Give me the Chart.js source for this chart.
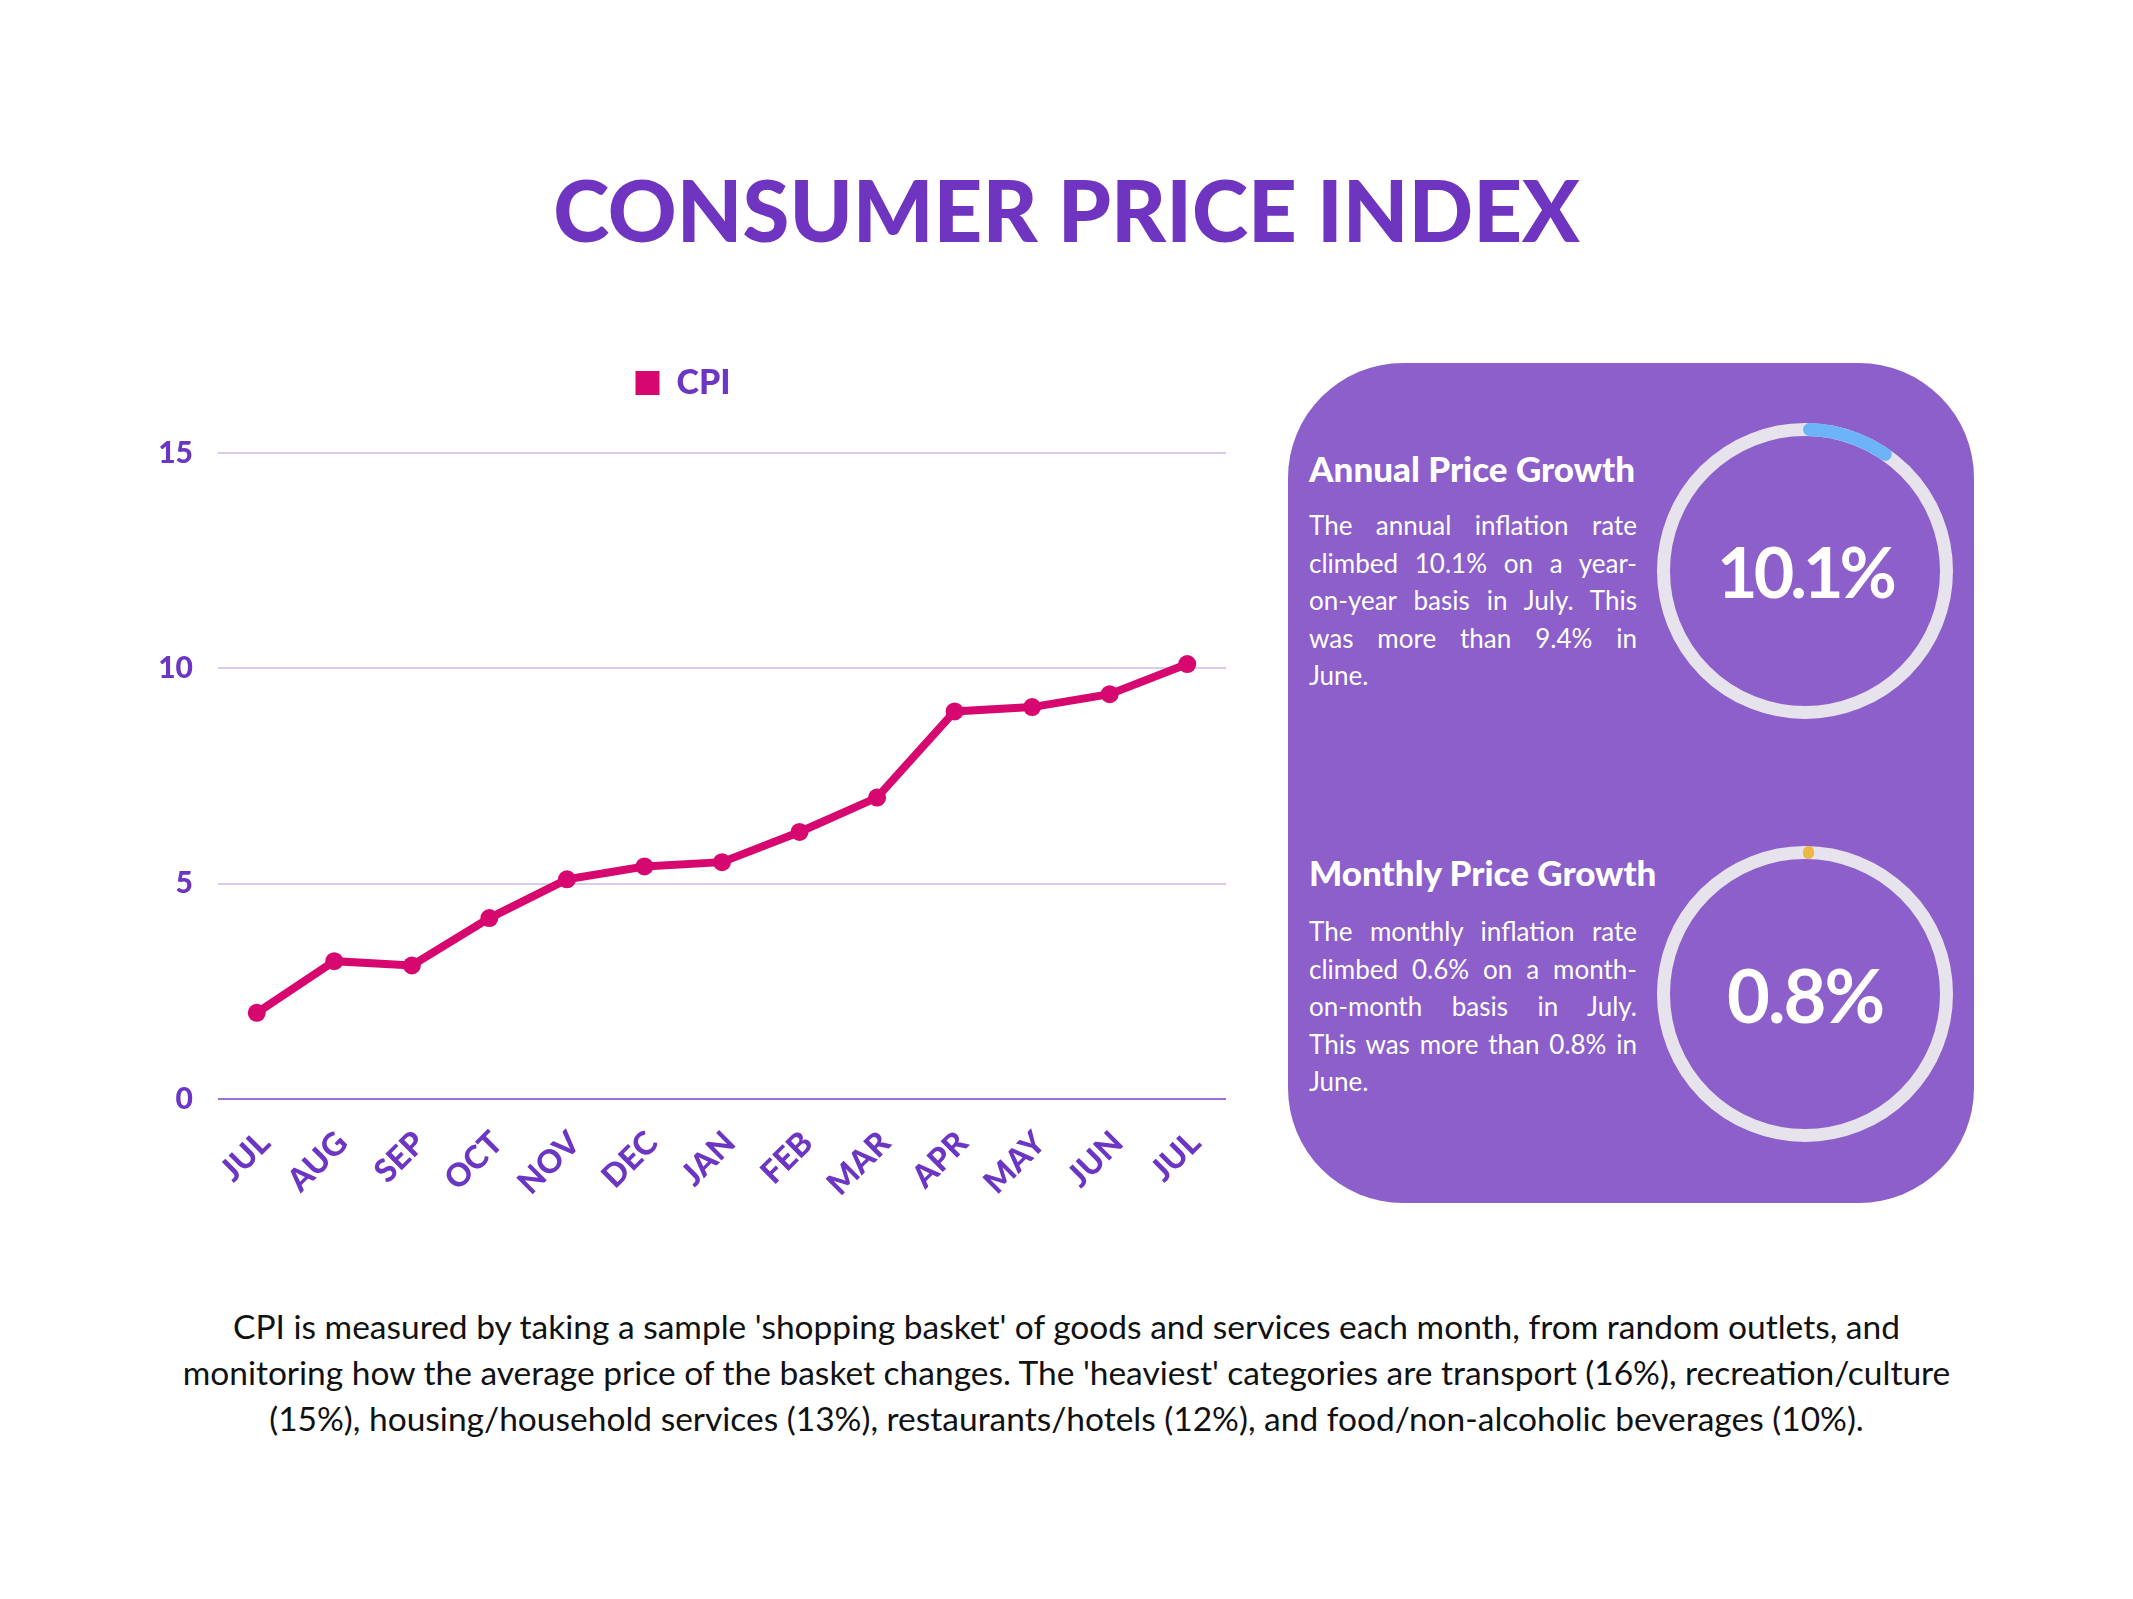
<!DOCTYPE html>
<html>
<head>
<meta charset="utf-8">
<script src="https://cdn.jsdelivr.net/npm/chart.js@4.4.0/dist/chart.umd.min.js"></script>
<style>
html, body { margin: 0; padding: 0; background: #fff; }
body { width: 2133px; height: 1599px; position: relative; overflow: hidden; font-family: Lato, "Noto Sans", sans-serif; }
#title { position: absolute; left: 0; top: 159px; width: 2133px; text-align: center; font-weight: 900; font-size: 85px; line-height: 100px; color: #7035c0; }
#lineWrap { position: absolute; left: 140px; top: 346px; width: 1100px; height: 863px; }
#panel { position: absolute; left: 1288px; top: 363px; width: 686px; height: 840px; border-radius: 115px; background: #8c5fcb; }
.head { position: absolute; left: 1309px; color: #fff; font-weight: 900; font-size: 35px; line-height: 40px; white-space: nowrap; }
.body { position: absolute; left: 1309px; width: 328px; color: #fff; font-size: 26px; line-height: 37.5px; }
.body div { text-align: justify; text-align-last: justify; white-space: nowrap; }
.body div.last { text-align-last: left; }
.ring { position: absolute; left: 1655px; width: 300px; height: 300px; }
.ringVal { position: absolute; left: 1655px; width: 300px; height: 300px; display: flex; align-items: center; justify-content: center; color: #fff; font-weight: 700; }
#note { position: absolute; left: 0; top: 1303px; width: 2133px; text-align: center; font-size: 33.5px; line-height: 46px; color: #111; }
</style>
</head>
<body>
<div id="title">CONSUMER PRICE INDEX</div>

<div id="lineWrap"><canvas id="cpiChart"></canvas></div>

<div id="panel"></div>
<div class="head" style="top:448px">Annual Price Growth</div>
<div class="body" style="top:507px">
  <div>The annual inflation rate</div>
  <div>climbed 10.1% on a year-</div>
  <div>on-year basis in July. This</div>
  <div>was more than 9.4% in</div>
  <div class="last">June.</div>
</div>
<div class="head" style="top:852px">Monthly Price Growth</div>
<div class="body" style="top:913px">
  <div>The monthly inflation rate</div>
  <div>climbed 0.6% on a month-</div>
  <div>on-month basis in July.</div>
  <div>This was more than 0.8% in</div>
  <div class="last">June.</div>
</div>

<canvas class="ring" id="annualRing" width="300" height="300" style="top:421px"></canvas>
<div class="ringVal" style="top:421px;font-size:70px;letter-spacing:-4px">10.1%</div>
<canvas class="ring" id="monthlyRing" width="300" height="300" style="top:844px"></canvas>
<div class="ringVal" style="top:844px;font-size:74px;letter-spacing:-2px">0.8%</div>

<div id="note">CPI is measured by taking a sample 'shopping basket' of goods and services each month, from random outlets, and<br>monitoring how the average price of the basket changes. The 'heaviest' categories are transport (16%), recreation/culture<br>(15%), housing/household services (13%), restaurants/hotels (12%), and food/non-alcoholic beverages (10%).</div>

<script>
const months = ['JUL', 'AUG', 'SEP', 'OCT', 'NOV', 'DEC', 'JAN', 'FEB', 'MAR', 'APR', 'MAY', 'JUN', 'JUL'];
const cpiValues = [2.0, 3.2, 3.1, 4.2, 5.1, 5.4, 5.5, 6.2, 7.0, 9.0, 9.1, 9.4, 10.1];
const yTicks = [0, 5, 10, 15];
const annualGrowth = [10.1, 89.9];
const monthlyGrowth = [0.8, 99.2];

const pink = '#d6086f';
const purple = '#6c35c4';
const fontFamily = 'Lato, "Noto Sans", sans-serif';

// pushes the plot down below the legend
const legendGap = {
    id: 'legendGap',
    beforeInit(chart) {
        const fit = chart.legend.fit;
        chart.legend.fit = function () {
            fit.bind(chart.legend)();
            this.height += 43;
        };
    }
};

const ctx = document.getElementById('cpiChart').getContext('2d');
const cpiChart = new Chart(ctx, {
    type: 'line',
    data: {
        labels: months,
        datasets: [{
            label: 'CPI',
            data: cpiValues,
            borderColor: pink,
            backgroundColor: pink,
            borderWidth: 8,
            pointRadius: 9,
            pointBorderWidth: 0,
            pointBackgroundColor: pink,
            tension: 0
        }]
    },
    options: {
        responsive: true,
        maintainAspectRatio: false,
        animation: false,
        layout: { padding: { top: 0, right: 14, bottom: 0, left: 0 } },
        plugins: {
            tooltip: { enabled: false },
            legend: {
                labels: {
                    boxWidth: 24,
                    boxHeight: 24,
                    padding: 20,
                    color: purple,
                    font: { family: fontFamily, size: 34, weight: 900 },
                    generateLabels(chart) {
                        return Chart.defaults.plugins.legend.labels.generateLabels(chart).map(item => {
                            item.lineWidth = 0;
                            item.fillStyle = pink;
                            return item;
                        });
                    }
                }
            }
        },
        scales: {
            x: {
                offset: true,
                afterFit(axis) { axis.height = 110; },
                grid: { display: false, drawTicks: false },
                border: { display: false },
                ticks: {
                    color: purple,
                    font: { family: fontFamily, size: 32, weight: 900 },
                    minRotation: 45,
                    maxRotation: 45,
                    labelOffset: 8,
                    padding: 25
                }
            },
            y: {
                min: 0,
                max: 15,
                afterFit(axis) { axis.width = 78; },
                afterBuildTicks(axis) { axis.ticks = yTicks.map(v => ({ value: v })); },
                grid: {
                    drawTicks: false,
                    lineWidth: 2,
                    color: c => c.tick.value === 0 ? '#9b72d9' : '#dacaf0'
                },
                border: { display: false },
                ticks: {
                    color: purple,
                    font: { family: fontFamily, size: 30, weight: 900 },
                    padding: 25
                }
            }
        }
    },
    plugins: [legendGap]
});

// light grey track behind each progress ring
const ringTrack = {
    id: 'ringTrack',
    beforeDatasetsDraw(chart) {
        const arc = chart.getDatasetMeta(0).data[0];
        const { x, y, innerRadius, outerRadius } = arc.getProps(['x', 'y', 'innerRadius', 'outerRadius'], true);
        const bw = arc.options.borderWidth;
        const c = chart.ctx;
        c.save();
        c.beginPath();
        c.arc(x, y, (innerRadius + outerRadius) / 2, 0, Math.PI * 2);
        c.lineWidth = outerRadius - innerRadius + bw;
        c.strokeStyle = '#e7e3ec';
        c.stroke();
        c.restore();
    }
};

function makeRing(id, values, color) {
    return new Chart(document.getElementById(id), {
        type: 'doughnut',
        data: {
            labels: ['growth', 'rest'],
            datasets: [{
                data: values,
                backgroundColor: [color, 'rgba(0,0,0,0)'],
                borderColor: [color, 'rgba(0,0,0,0)'],
                borderWidth: 4,
                borderJoinStyle: 'round',
                borderRadius: [5, 0]
            }]
        },
        options: {
            responsive: false,
            animation: false,
            cutout: 137,
            layout: { padding: 2 },
            plugins: { legend: { display: false }, tooltip: { enabled: false } }
        },
        plugins: [ringTrack]
    });
}

makeRing('annualRing', annualGrowth, '#6cb4f7');
makeRing('monthlyRing', monthlyGrowth, '#ecb843');
</script>
</body>
</html>
